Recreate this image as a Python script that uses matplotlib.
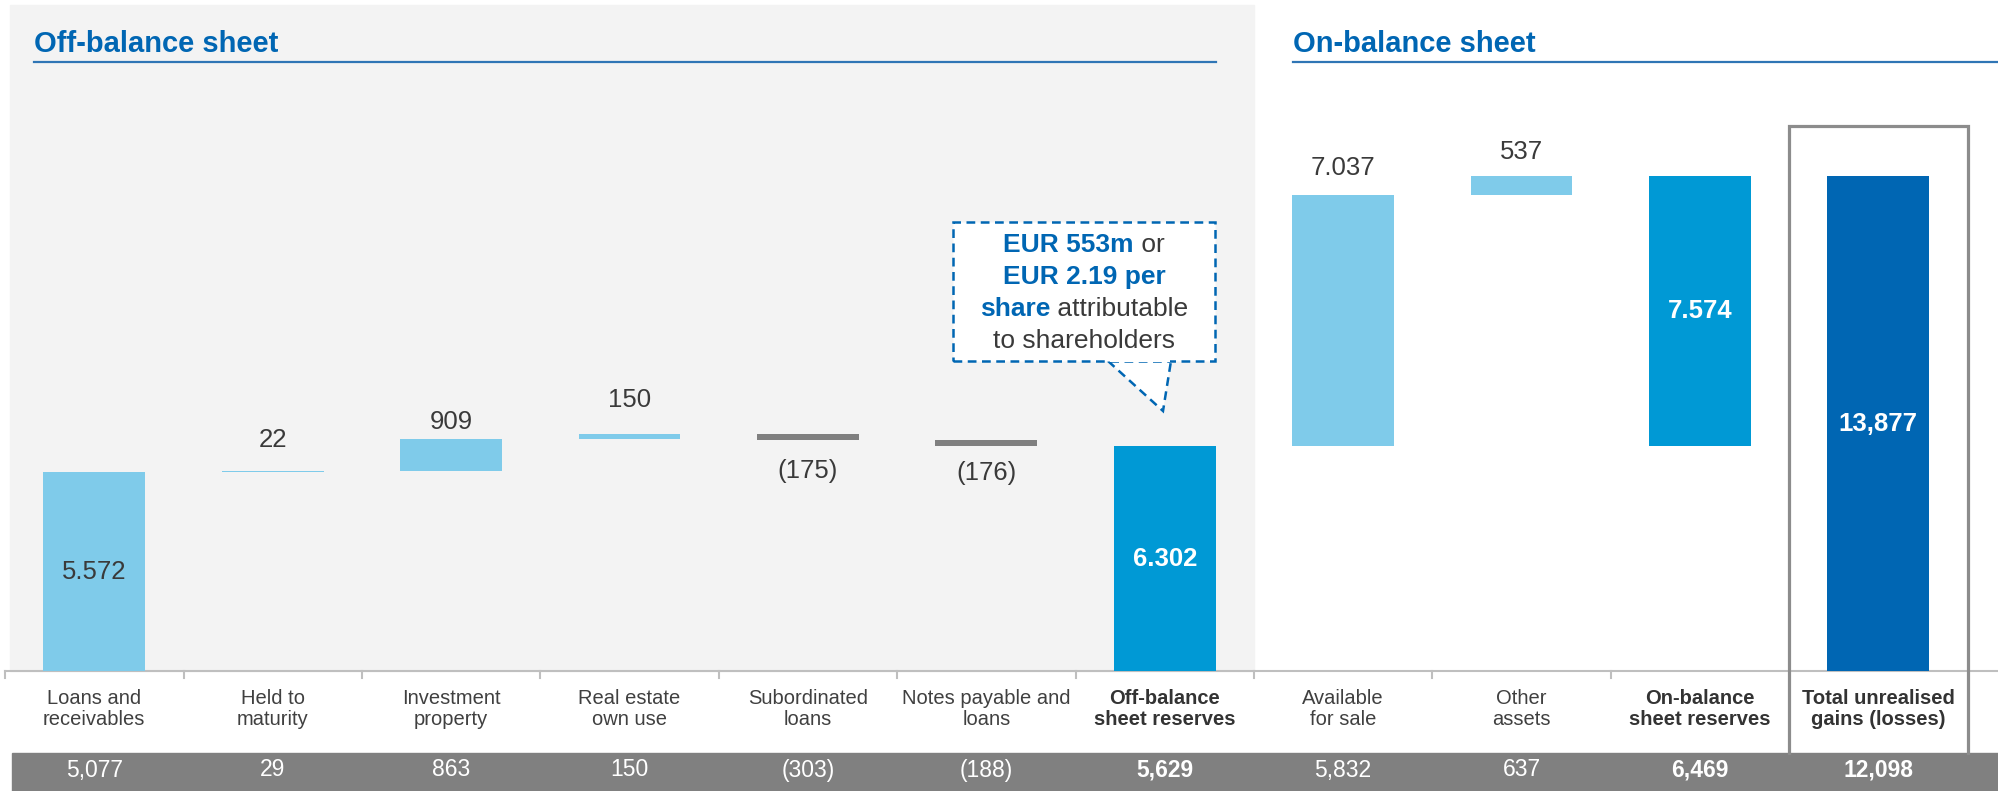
import matplotlib
matplotlib.use("Agg")
import matplotlib.pyplot as plt
from matplotlib.patches import Rectangle, Polygon
from matplotlib.lines import Line2D

plt.rcParams['font.family'] = ['Liberation Sans', 'DejaVu Sans']

categories = ['Loans and\nreceivables', 'Held to\nmaturity', 'Investment\nproperty',
              'Real estate\nown use', 'Subordinated\nloans', 'Notes payable and\nloans',
              'Off-balance\nsheet reserves', 'Available\nfor sale', 'Other\nassets',
              'On-balance\nsheet reserves', 'Total unrealised\ngains (losses)']
values = [5572, 22, 909, 150, -175, -176, 6302, 7037, 537, 7574, 13877]
kinds = ['start', 'step', 'step', 'step', 'step', 'step', 'subtotal', 'step', 'step', 'sum', 'total']
bar_labels = ['5.572', '22', '909', '150', '(175)', '(176)', '6.302', '7.037', '537', '7.574', '13,877']
table_values = ['5,077', '29', '863', '150', '(303)', '(188)', '5,629', '5,832', '637', '6,469', '12,098']
bold_cats = [6, 9, 10]

W, H = 1998, 791
LIGHT = '#7FCBEA'
MID = '#0099D5'
DARK = '#0066B3'
GREY = '#7F7F7F'
TXT = '#3A3A3A'

fig = plt.figure(figsize=(W / 100, H / 100), dpi=100)
ax = fig.add_axes([0, 0, 1, 1])
ax.axis('off')
ax.set_zorder(2)

# pixel layout of the slide
x0_px, step_px = 94.3, 178.4
base_px, px_per_unit = 671, 0.03567
ax.set_xlim(-x0_px / step_px, (W - x0_px) / step_px)
ax.set_ylim(-(H - base_px) / px_per_unit, base_px / px_per_unit)


def fx(px):
    return px / W


def fy(py):
    return 1 - py / H


def cx(i):
    return fx(x0_px + step_px * i)


# grey panel behind off-balance part
fig.patches.append(Rectangle((fx(10), fy(671)), cx(6.5) - fx(10), fy(5) - fy(671),
                             transform=fig.transFigure, color='#F3F3F3', zorder=-1))

# section titles with underline
for label, left, right in [('Off-balance sheet', 34, x0_px + step_px * 6.285),
                           ('On-balance sheet', 1293, W)]:
    fig.text(fx(left), fy(52), label, fontsize=21, fontweight='bold', color=DARK,
             ha='left', va='baseline')
    fig.add_artist(Line2D([fx(left), fx(right)], [fy(62), fy(62)], color='#2F75B5', lw=1.6))

# waterfall bars
bw = 0.57
cum = 0
bottoms, heights, colors = [], [], []
for v, k in zip(values, kinds):
    if k == 'start':
        b, h, c = 0, v, LIGHT
        cum = v
    elif k == 'step':
        b, h = (cum, v) if v >= 0 else (cum + v, -v)
        c = LIGHT if v >= 0 else GREY
        cum += v
    elif k == 'subtotal':
        b, h, c = 0, v, MID
        cum = v
    elif k == 'sum':
        b, h, c = cum - v, v, MID
    else:
        b, h, c = 0, v, DARK
    bottoms.append(b)
    heights.append(h)
    colors.append(c)

xs = list(range(len(values)))
ax.bar(xs, heights, bottom=bottoms, width=bw, color=colors, zorder=3)

# bar labels
label_off = [None, 31, 17, 34, -31, -27, None, 27, 24, None, None]
for i, lab in enumerate(bar_labels):
    if label_off[i] is None:
        col = TXT if kinds[i] == 'start' else 'white'
        wt = 'normal' if kinds[i] == 'start' else 'bold'
        ax.text(i, bottoms[i] + heights[i] / 2, lab, ha='center', va='center',
                fontsize=18.5, color=col, fontweight=wt, zorder=4)
    else:
        yref = bottoms[i] + heights[i] if label_off[i] > 0 else bottoms[i]
        ax.annotate(lab, (i, yref), xytext=(0, label_off[i] * 0.72), textcoords='offset points',
                    ha='center', va='center', fontsize=18.5, color=TXT, zorder=4)

# baseline with separator ticks
fig.add_artist(Line2D([fx(5), fx(W)], [fy(base_px), fy(base_px)], color='#BFBFBF', lw=1.5))
for j in range(10):
    xb = cx(j - 0.5)
    fig.add_artist(Line2D([xb, xb], [fy(base_px), fy(base_px + 7)], color='#BFBFBF', lw=1.5))

# category labels
for i, lab in enumerate(categories):
    bold = i in bold_cats
    fig.text(cx(i), fy(709), lab, ha='center', va='center', fontsize=14.5, linespacing=1.15,
             color='#333333' if bold else '#404040', fontweight='bold' if bold else 'normal')

# table row of previous-year values
fig.patches.append(Rectangle((fx(12), 0), 1 - fx(12), fy(753), transform=fig.transFigure,
                             color='#808080', zorder=-1))
for i, v in enumerate(table_values):
    fig.text(cx(i), fy(770), v, ha='center', va='center', fontsize=16.5, color='white',
             fontweight='bold' if i in bold_cats else 'normal')

# frame around total column
bx0, bx1 = cx(9.5), cx(10.5)
fig.add_artist(Line2D([bx0, bx0, bx1, bx1], [fy(753), fy(126), fy(126), fy(753)],
                      color='#8C8C8C', lw=2.3, solid_joinstyle='miter'))

# callout box
box_l, box_r, box_t, box_b = 953, 1215, 222, 361
tail = [(fx(1108), fy(box_b)), (fx(1163), fy(411)), (fx(1171), fy(box_b))]
fig.patches.append(Polygon(tail, closed=False, transform=fig.transFigure, facecolor='white',
                           edgecolor=DARK, lw=1.8, linestyle=(0, (3.5, 2.2)), zorder=5))
fig.patches.append(Rectangle((fx(box_l), fy(box_b)), fx(box_r - box_l), fy(box_t) - fy(box_b),
                             transform=fig.transFigure, facecolor='white', edgecolor=DARK,
                             lw=1.8, linestyle=(0, (3.5, 2.2)), zorder=5))
fig.patches.append(Rectangle((fx(1110), fy(box_b + 1)), fx(60), fy(box_b - 3) - fy(box_b + 1),
                             transform=fig.transFigure, facecolor='white', edgecolor='none',
                             zorder=6))

callout_lines = [
    [('EUR 553m', True), (' or', False)],
    [('EUR 2.19 per', True)],
    [('share', True), (' attributable', False)],
    [('to shareholders', False)],
]
renderer = fig.canvas.get_renderer()
mid_x = fx((box_l + box_r) / 2)
for row, pieces in enumerate(callout_lines):
    yy = fy(245 + 32 * row)
    texts = []
    for s, b in pieces:
        t = fig.text(0, yy, s, fontsize=19, ha='left', va='center', zorder=7,
                     color=DARK if b else TXT, fontweight='bold' if b else 'normal')
        texts.append(t)
    widths = [t.get_window_extent(renderer).width / W for t in texts]
    x = mid_x - sum(widths) / 2
    for t, w in zip(texts, widths):
        t.set_x(x)
        x += w

fig.savefig('out.png', dpi=100)
